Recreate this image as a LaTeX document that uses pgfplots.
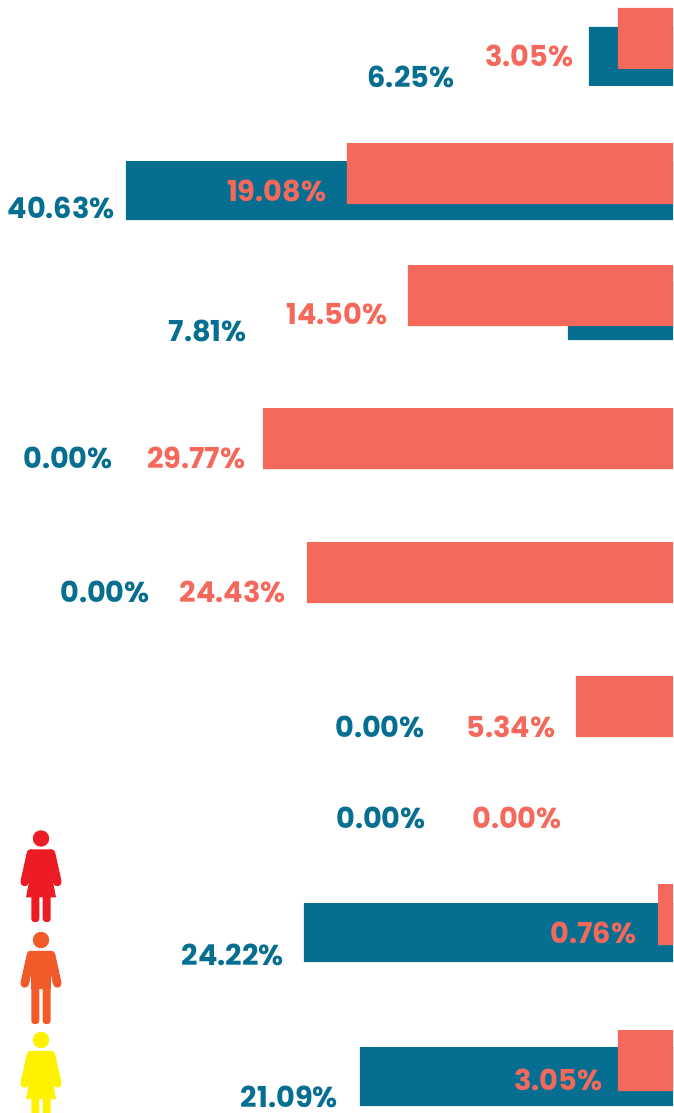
\documentclass[border=0pt]{standalone}
\usepackage{pgfplots}
\pgfplotsset{compat=1.18}
\usepackage{fontspec}
\setmainfont{Poppins}
\definecolor{navy}{HTML}{066E90}
\definecolor{coral}{HTML}{F4695B}
\definecolor{pred}{HTML}{ED1C24}
\definecolor{porange}{HTML}{F15A29}
\definecolor{pyellow}{HTML}{FFF200}
% label: right edge (px), baseline (px), text
\newcommand{\lab}[4]{\node[anchor=base east,inner sep=0pt,text=#1,font=\fontsize{28.8}{28.8}\selectfont\bfseries] at (axis cs:673-#2,#3) {#4};}
\newcommand{\personcommon}[2]{% colour, head y
  \begin{scope}[shift={(41pt,{(1113-#2)*1pt})},x=1pt,y=-1pt]
    \fill[#1] (0,0) circle (8.2);
    \fill[#1,rounded corners=3.5] (-14,11) rectangle (14,22);
    \draw[#1,line width=8.6,line cap=round] (-10,15) -- (-16.3,43.5);
    \draw[#1,line width=8.6,line cap=round] (10,15) -- (16.3,43.5);
  \end{scope}}
\newcommand{\female}[2]{\personcommon{#1}{#2}
  \begin{scope}[shift={(41pt,{(1113-#2)*1pt})},x=1pt,y=-1pt]
    \fill[#1] (-9.5,14) -- (9.5,14) -- (9.5,30) -- (15,59) -- (-15,59) -- (-9.5,30) -- cycle;
    \fill[#1,rounded corners=3] (-9.7,55) rectangle (-1.7,83.5);
    \fill[#1,rounded corners=3] (1.7,55) rectangle (9.7,83.5);
  \end{scope}}
\newcommand{\male}[2]{\personcommon{#1}{#2}
  \begin{scope}[shift={(41pt,{(1113-#2)*1pt})},x=1pt,y=-1pt]
    \fill[#1] (-9.7,14) rectangle (9.7,49);
    \fill[#1,rounded corners=3] (-9.7,45) rectangle (-1.7,84);
    \fill[#1,rounded corners=3] (1.7,45) rectangle (9.7,84);
  \end{scope}}
\begin{document}
\begin{tikzpicture}[x=1pt,y=1pt]
\useasboundingbox (0,0) rectangle (673pt,1113pt);
\begin{axis}[
  at={(0pt,0pt)},anchor=south west,
  scale only axis,width=673pt,height=1113pt,
  xmin=0,xmax=673,ymin=0,ymax=1113,
  x dir=reverse,y dir=reverse,
  hide axis,
  xbar,bar shift=0pt,
]
% bar lengths as drawn, in pixels from the right edge; y = bar centre
\addplot[fill=navy,draw=none,bar width=59pt] coordinates {
 (84,56.5) (547,190.5) (105,310.5) (369,932.5) (313,1076.5)};
\addplot[fill=coral,draw=none,bar width=61pt] coordinates {
 (55,38.5) (326,173.5) (265,295.5) (410,438.5) (366,572.5) (97,706.5) (15,914.5) (55,1060.5)};
\lab{navy}{454.5}{88}{6.25\%}
\lab{coral}{573.5}{67}{3.05\%}
\lab{navy}{115}{218}{40.63\%}
\lab{coral}{326.5}{201}{19.08\%}
\lab{navy}{247}{341}{7.81\%}
\lab{coral}{387.5}{324}{14.50\%}
\lab{navy}{113}{468}{0.00\%}
\lab{coral}{245.5}{468}{29.77\%}
\lab{navy}{150}{602}{0.00\%}
\lab{coral}{286}{602}{24.43\%}
\lab{navy}{425}{737}{0.00\%}
\lab{coral}{555.5}{737}{5.34\%}
\lab{navy}{426}{828}{0.00\%}
\lab{coral}{562}{828}{0.00\%}
\lab{navy}{284}{965}{24.22\%}
\lab{coral}{636.5}{943}{0.76\%}
\lab{navy}{338}{1107}{21.09\%}
\lab{coral}{602.5}{1090}{3.05\%}
\end{axis}
\begin{scope}
\clip (0,0) rectangle (673pt,1113pt);
\female{pred}{838.5}
\male{porange}{940}
\female{pyellow}{1040}
\end{scope}
\end{tikzpicture}
\end{document}
